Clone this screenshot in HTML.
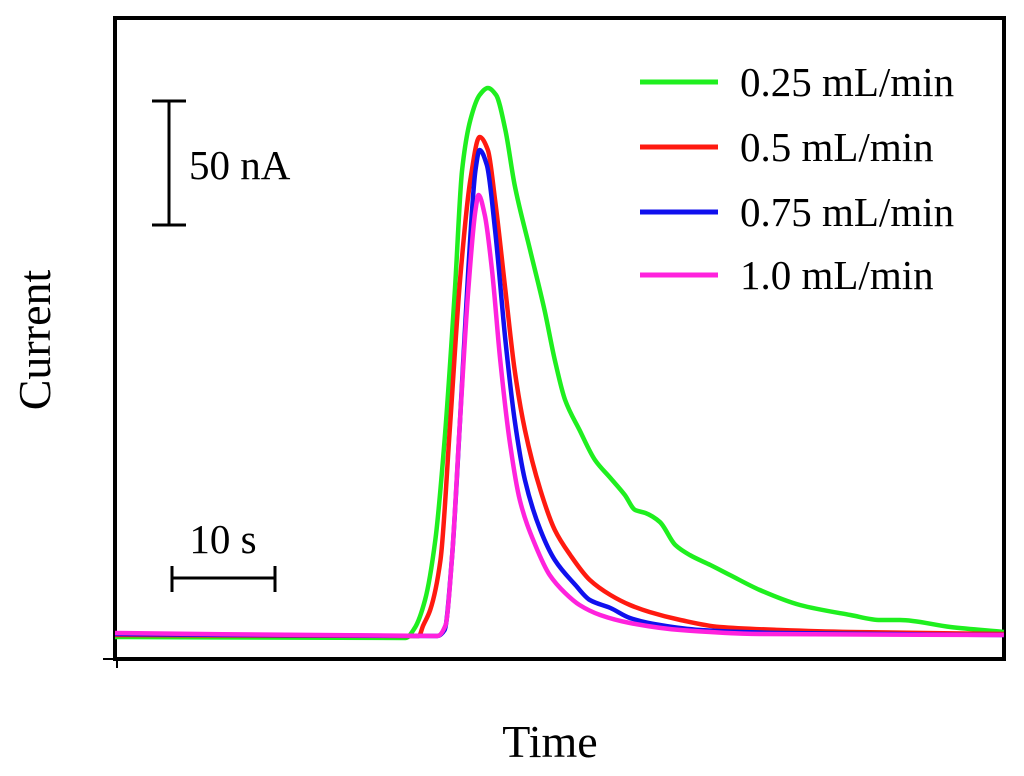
<!DOCTYPE html>
<html><head><meta charset="utf-8"><style>
html,body{margin:0;padding:0;background:#fff;}
svg{display:block;font-family:"Liberation Serif",serif;}
</style></head><body>
<svg id="chart" width="1024" height="776">
<rect x="115" y="18" width="889" height="641" fill="#fff" stroke="#000" stroke-width="4"/>
<line x1="103" y1="659" x2="115" y2="659" stroke="#000" stroke-width="2"/>
<line x1="117" y1="659" x2="117" y2="668" stroke="#000" stroke-width="2"/>
<g id="series"></g>
<g stroke="#000" stroke-width="3">
<line x1="169" y1="101" x2="169" y2="225"/><line x1="152" y1="101" x2="186" y2="101"/><line x1="152" y1="225" x2="186" y2="225"/>
</g>
<text x="189" y="179" font-size="41">50 nA</text>
<g stroke="#000" stroke-width="3">
<line x1="172" y1="578" x2="275" y2="578"/><line x1="172" y1="566" x2="172" y2="592"/><line x1="275" y1="566" x2="275" y2="592"/>
</g>
<text x="223" y="553" font-size="41" text-anchor="middle">10 s</text>
<text transform="translate(50,340) rotate(-90)" font-size="46" text-anchor="middle">Current</text>
<text x="550" y="757" font-size="46" text-anchor="middle">Time</text>
<g id="legend"></g>
</svg>
<script>
const seriesNames = ["0.25 mL/min","0.5 mL/min","0.75 mL/min","1.0 mL/min"];
const seriesColors = ["#1fef1f","#ff1a10","#1010ee","#ff22dd"];
const tGreen = [0,28.2,29.1,30.1,31.1,32.0,33.0,33.7,34.5,35.4,36.2,37.0,37.9,38.8,40.3,41.7,42.7,43.7,45.1,46.6,48.1,49.5,50.5,51.5,52.9,54.4,55.8,57.8,59.7,62.6,66.5,71.4,74.3,76.2,81.1,86.3];
const vGreen = [-0.4,-0.8,3.2,14.4,38.4,78.4,138.4,186.4,206.4,216.4,219.2,216.4,202.4,180.4,154.4,130.4,110.4,94.4,82.4,70.4,63.2,56.4,50.4,49.2,45.6,36.4,32.4,28.4,24.4,18.4,12.4,8.4,6.4,6.4,3.6,1.6];
const tRed = [0,29.5,29.9,30.6,31.6,32.5,33.5,34.5,35.4,36.2,36.9,37.9,38.8,39.8,41.3,42.7,44.2,46.1,48.1,50.0,51.9,54.9,58.7,64.6,71.4,86.3];
const vRed = [0.4,0,4,10.4,30.4,82.4,142.4,182.4,199.6,194.4,174.4,138.4,106.4,82.4,58.4,42.4,32.4,22.4,16.4,12.4,9.6,6.4,3.6,2.4,1.6,0.8];
const tBlue = [0,31.3,32.0,32.7,33.5,34.3,35.0,35.4,36.1,36.9,37.9,38.8,39.8,41.3,42.7,44.7,46.1,48.1,50.0,52.9,56.8,64.6,86.3];
const vBlue = [0.8,0,2.4,30.4,86.4,146.4,186.4,194.4,188.4,162.4,118.4,86.4,62.4,42.4,30.4,20.4,14.4,11.2,7.2,4.4,2.4,1.2,0.4];
const tMag = [0,31.3,32.1,32.7,33.5,34.3,35.0,35.3,35.9,36.6,37.4,38.3,39.3,40.8,42.2,43.7,45.1,47.1,50.0,54.9,62.6,86.3];
const vMag = [1.2,0,4.4,30.4,86.4,138.4,170.4,176.4,168.4,146.4,110.4,78.4,54.4,36.4,24.4,17.2,12.4,8.4,5.2,2.4,0.8,0.4];
const tAll = [tGreen,tRed,tBlue,tMag];
const vAll = [vGreen,vRed,vBlue,vMag];
const xS = t => 115 + t * 10.3;
const yS = v => 636 - v * 2.5;
function pathFor(ts, vs){
  const x = ts.map(xS), y = vs.map(yS), n = x.length;
  const dx=[], s=[];
  for(let i=0;i<n-1;i++){dx.push(x[i+1]-x[i]); s.push((y[i+1]-y[i])/dx[i]);}
  const m=[s[0]];
  for(let i=1;i<n-1;i++){
    if(s[i-1]*s[i]<=0) m.push(0);
    else { const w1=2*dx[i]+dx[i-1], w2=dx[i]+2*dx[i-1]; m.push((w1+w2)/(w1/s[i-1]+w2/s[i])); }
  }
  m.push(s[n-2]);
  let d=`M${x[0]},${y[0]}`;
  for(let i=0;i<n-1;i++){
    const h=dx[i]/3;
    d+=` C${x[i]+h},${y[i]+m[i]*h} ${x[i+1]-h},${y[i+1]-m[i+1]*h} ${x[i+1]},${y[i+1]}`;
  }
  return d;
}
const NS="http://www.w3.org/2000/svg";
const g=document.getElementById('series');
const lg=document.getElementById('legend');
const legendY=[82,147,212,275];
for(let i=0;i<4;i++){
  const path=document.createElementNS(NS,'path');
  path.setAttribute('d',pathFor(tAll[i],vAll[i]));
  path.setAttribute('fill','none');
  path.setAttribute('stroke',seriesColors[i]);
  path.setAttribute('stroke-width','4.5');
  path.setAttribute('stroke-linejoin','round');
  
  
  g.appendChild(path);
  const ln=document.createElementNS(NS,'line');
  ln.setAttribute('x1',640);ln.setAttribute('x2',718);
  ln.setAttribute('y1',legendY[i]);ln.setAttribute('y2',legendY[i]);
  ln.setAttribute('stroke',seriesColors[i]);ln.setAttribute('stroke-width','5');
  
  
  lg.appendChild(ln);
  const tx=document.createElementNS(NS,'text');
  tx.setAttribute('x',740);tx.setAttribute('y',legendY[i]+14);
  tx.setAttribute('font-size','41');
  tx.textContent=seriesNames[i];
  
  
  lg.appendChild(tx);
}
</script>
</body></html>
